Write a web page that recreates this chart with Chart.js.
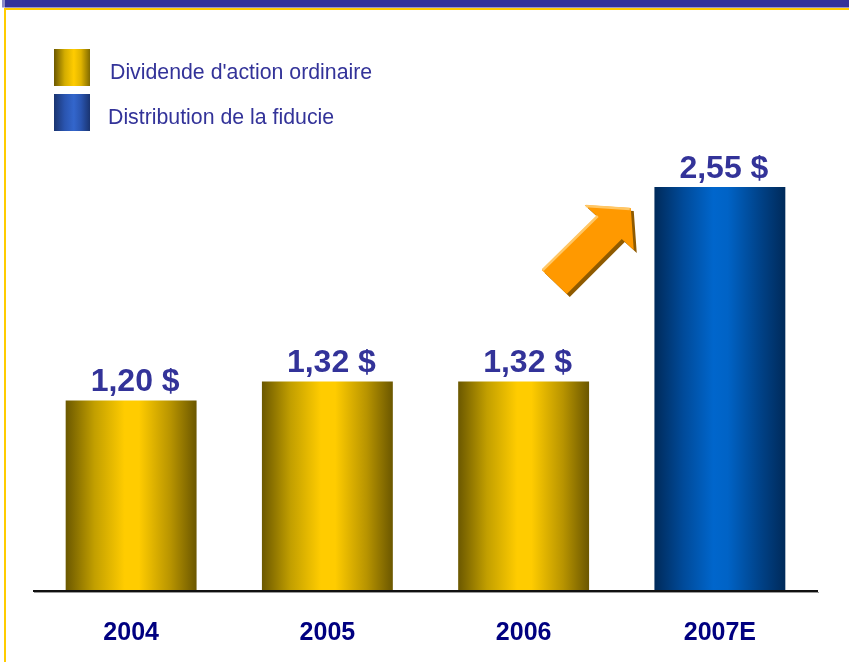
<!DOCTYPE html>
<html>
<head>
<meta charset="utf-8">
<script src="https://cdn.jsdelivr.net/npm/chart.js@4/dist/chart.umd.min.js"></script>
<style>
  html, body { margin: 0; padding: 0; background: #ffffff; }
  #wrap { position: relative; width: 849px; height: 662px; }
  canvas { display: block; }
</style>
</head>
<body>
<div id="wrap"><canvas id="c" width="849" height="662"></canvas></div>
<script>
// ---- data ----
const categories = ['2004', '2005', '2006', '2007E'];
const dividendValues = [1.20, 1.32, 1.32, null];
const distributionValues = [null, null, null, 2.55];
const seriesLabels = ["Dividende d'action ordinaire", 'Distribution de la fiducie'];

const FONT = '"Liberation Sans", Arial, Helvetica, sans-serif';
const TEXT_BLUE = '#333399';

const yellowStops = [[0, '#6b5800'], [0.22, '#c29f00'], [0.45, '#ffcc00'], [0.56, '#ffcc00'], [0.8, '#b89400'], [1, '#6b5700']];
const blueStops = [[0, '#002a5a'], [0.22, '#004a99'], [0.45, '#0066cc'], [0.56, '#0063c6'], [0.8, '#00438a'], [1, '#002a5a']];
const legendYellow = [[0, '#6b5800'], [0.3, '#d4ad00'], [0.55, '#ffcc00'], [0.75, '#e0b400'], [1, '#806a00']];
const legendBlue = [[0, '#1a3470'], [0.3, '#2a55b0'], [0.55, '#3366cc'], [0.75, '#2a55b0'], [1, '#1a3470']];

function hGrad(ctx, x0, x1, stops) {
  const g = ctx.createLinearGradient(x0, 0, x1, 0);
  stops.forEach(s => g.addColorStop(s[0], s[1]));
  return g;
}

function barFill(stops, fallback) {
  return function (c) {
    const chart = c.chart;
    const sx = chart.scales && chart.scales.x;
    if (!chart.chartArea || !sx) return fallback;
    const cx = sx.getPixelForValue(c.dataIndex);
    const w = (sx.width / categories.length) * 0.667;
    return hGrad(chart.ctx, cx - w / 2, cx + w / 2, stops);
  };
}

const framePlugin = {
  id: 'frame',
  beforeDraw(chart) {
    const ctx = chart.ctx;
    ctx.save();
    ctx.fillStyle = '#333399';
    ctx.fillRect(5, 0, 849, 7.5);
    ctx.fillStyle = '#8a8ac8';
    ctx.fillRect(2, 0, 3, 7.5);
    ctx.fillStyle = '#ffcc00';
    ctx.fillRect(4, 8, 845, 2);
    ctx.fillRect(4, 8, 2, 654);
    ctx.restore();
  }
};

const legendPlugin = {
  id: 'customLegend',
  afterDraw(chart) {
    const ctx = chart.ctx;
    ctx.save();
    const items = [
      { box: [54, 49, 36, 37], stops: legendYellow, text: chart.data.datasets[0].label, tx: 110, ty: 73 },
      { box: [54, 94, 36, 37], stops: legendBlue, text: chart.data.datasets[1].label, tx: 108, ty: 118 }
    ];
    items.forEach(it => {
      const [x, y, w, h] = it.box;
      ctx.fillStyle = hGrad(ctx, x, x + w, it.stops);
      ctx.fillRect(x, y, w, h);
      ctx.fillStyle = TEXT_BLUE;
      ctx.font = '21.3px ' + FONT;
      ctx.textAlign = 'left';
      ctx.textBaseline = 'middle';
      ctx.fillText(it.text, it.tx, it.ty);
    });
    ctx.restore();
  }
};

const valueLabelPlugin = {
  id: 'valueLabels',
  afterDatasetsDraw(chart) {
    const ctx = chart.ctx;
    ctx.save();
    ctx.font = 'bold 32px ' + FONT;
    ctx.fillStyle = TEXT_BLUE;
    ctx.textAlign = 'center';
    ctx.textBaseline = 'alphabetic';
    chart.data.datasets.forEach((ds, di) => {
      const meta = chart.getDatasetMeta(di);
      meta.data.forEach((bar, i) => {
        const v = ds.data[i];
        if (v === null || v === undefined) return;
        const txt = v.toFixed(2).replace('.', ',') + ' $';
        ctx.fillText(txt, bar.x + 4, bar.y - 9);
      });
    });
    ctx.restore();
  }
};

const baselinePlugin = {
  id: 'baseline',
  afterDatasetsDraw(chart) {
    const ctx = chart.ctx;
    const a = chart.chartArea;
    ctx.save();
    ctx.fillStyle = '#111111';
    ctx.fillRect(a.left, a.bottom, a.right - a.left, 2);
    ctx.fillStyle = '#9a9a9a';
    ctx.fillRect(a.left + 1, a.bottom + 2, a.right - a.left, 1);
    ctx.restore();
  }
};

const arrowPlugin = {
  id: 'arrow',
  afterDatasetsDraw(chart) {
    const sx = chart.scales.x;
    const a = chart.chartArea;
    // anchor: midpoint between the 2006 and 2007E categories
    const ox = (sx.getPixelForValue(2) + sx.getPixelForValue(3)) / 2;
    const oy = a.top;
    const pts = [[541, 270], [596, 216], [584, 205], [630, 208], [633, 250], [621, 239], [566, 294]]
      .map(p => [p[0] - 621 + ox, p[1] - 116 + oy]);
    const ctx = chart.ctx;
    ctx.save();
    const poly = (dx, dy) => {
      ctx.beginPath();
      pts.forEach((p, i) => i ? ctx.lineTo(p[0] + dx, p[1] + dy) : ctx.moveTo(p[0] + dx, p[1] + dy));
      ctx.closePath();
    };
    ctx.fillStyle = '#8f5a00';
    poly(3, 3); ctx.fill();
    ctx.fillStyle = '#ff9900';
    poly(0, 0); ctx.fill();
    ctx.strokeStyle = '#ffc766';
    ctx.lineWidth = 2.5;
    ctx.beginPath();
    ctx.moveTo(pts[0][0] + 1, pts[0][1]);
    ctx.lineTo(pts[1][0] + 1, pts[1][1]);
    ctx.moveTo(pts[2][0] + 1, pts[2][1] + 1);
    ctx.lineTo(pts[3][0] - 1, pts[3][1] + 1);
    ctx.stroke();
    ctx.restore();
  }
};

new Chart(document.getElementById('c'), {
  type: 'bar',
  data: {
    labels: categories,
    datasets: [
      {
        label: seriesLabels[0],
        data: dividendValues,
        backgroundColor: barFill(yellowStops, '#ffcc00'),
        borderWidth: 0,
        grouped: false,
        barPercentage: 0.667,
        categoryPercentage: 1.0
      },
      {
        label: seriesLabels[1],
        data: distributionValues,
        backgroundColor: barFill(blueStops, '#0066cc'),
        borderWidth: 0,
        grouped: false,
        barPercentage: 0.667,
        categoryPercentage: 1.0
      }
    ]
  },
  options: {
    responsive: false,
    animation: false,
    devicePixelRatio: 1,
    layout: { padding: { left: 33, right: 31, top: 116, bottom: 0 } },
    plugins: {
      legend: { display: false },
      tooltip: { enabled: false },
      title: { display: false }
    },
    scales: {
      x: {
        grid: { display: false, drawTicks: false },
        border: { display: false },
        afterFit(scale) { scale.height = 72; },
        ticks: {
          padding: 28,
          color: '#000080',
          font: { family: FONT, size: 25, weight: 'bold' }
        }
      },
      y: {
        display: false,
        min: 0,
        max: 3
      }
    }
  },
  plugins: [framePlugin, legendPlugin, valueLabelPlugin, baselinePlugin, arrowPlugin]
});
</script>
</body>
</html>
